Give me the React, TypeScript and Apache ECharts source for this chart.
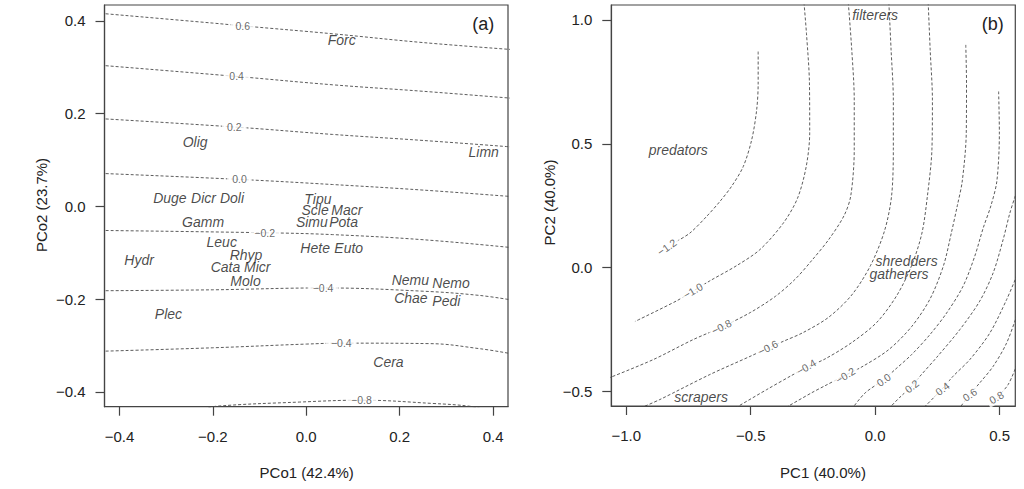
import React, { useEffect, useRef } from "react";
import * as echarts from "echarts";

// ---------- Panel (a) data ----------
const speciesA = ["Forc","Olig","Limn","Duge","Dicr","Doli","Tipu","Scle","Macr","Simu","Pota","Gamm","Leuc","Hete","Euto","Rhyp","Hydr","Cata","Micr","Molo","Nemu","Nemo","Chae","Pedi","Plec","Cera"];
const pco1 = [0.076,-0.238,0.380,-0.292,-0.220,-0.159,0.025,0.019,0.087,0.012,0.080,-0.221,-0.181,0.019,0.091,-0.129,-0.358,-0.173,-0.105,-0.130,0.223,0.310,0.224,0.300,-0.295,0.176];
const pco2 = [0.359,0.138,0.117,0.018,0.018,0.018,0.016,-0.009,-0.009,-0.034,-0.034,-0.034,-0.078,-0.090,-0.090,-0.104,-0.115,-0.131,-0.131,-0.161,-0.159,-0.165,-0.197,-0.205,-0.233,-0.336];

const levelsA = ["0.6","0.4","0.2","0.0","−0.2","−0.4","−0.4","−0.8"];
const contoursA: number[][][] = [
  [[-0.44,0.416],[-0.2,0.395],[-0.136,0.389],[0.056,0.372],[0.25,0.353],[0.44,0.338]],
  [[-0.44,0.304],[-0.149,0.280],[0.056,0.262],[0.25,0.248],[0.44,0.233]],
  [[-0.44,0.189],[-0.154,0.171],[0.056,0.155],[0.25,0.142],[0.44,0.128]],
  [[-0.44,0.071],[-0.143,0.058],[0.056,0.047],[0.25,0.035],[0.44,0.021]],
  [[-0.44,-0.052],[-0.089,-0.057],[0.056,-0.061],[0.25,-0.072],[0.44,-0.089]],
  [[-0.44,-0.182],[-0.2,-0.180],[0.036,-0.176],[0.25,-0.183],[0.37,-0.192],[0.44,-0.202]],
  [[-0.44,-0.3125],[-0.2,-0.305],[0.0,-0.297],[0.075,-0.295],[0.264,-0.296],[0.372,-0.307],[0.44,-0.318]],
  [[-0.22,-0.438],[-0.193,-0.431],[-0.014,-0.422],[0.118,-0.418],[0.271,-0.425],[0.350,-0.431],[0.38,-0.438]],
];
const labelPosA: number[][] = [
  [-0.136,0.389],[-0.149,0.280],[-0.154,0.171],[-0.143,0.058],[-0.089,-0.057],[0.036,-0.176],[0.075,-0.295],[0.118,-0.418],
];

const ticksA = [-0.4,-0.2,0,0.2,0.4];

// ---------- Panel (b) data ----------
const groupsB = ["filterers","predators","shredders","gatherers","scrapers"];
const pc1 = [0.0,-0.791,0.126,0.096,-0.699];
const pc2 = [1.02,0.473,0.028,-0.025,-0.523];

const levelsB = ["−1.2","−1.0","−0.8","−0.6","−0.4","−0.2","0.0","0.2","0.4","0.6","0.8"];
const contoursB: number[][][] = [
  [[-0.470,0.872],[-0.470,0.745],[-0.476,0.637],[-0.496,0.516],[-0.530,0.408],[-0.577,0.328],[-0.624,0.267],[-0.677,0.207],[-0.744,0.140],[-0.798,0.106]],
  [[-0.286,1.07],[-0.276,0.946],[-0.264,0.745],[-0.263,0.543],[-0.277,0.408],[-0.312,0.280],[-0.369,0.180],[-0.463,0.073],[-0.557,0.008],[-0.664,-0.053],[-0.731,-0.094],[-0.798,-0.134],[-0.965,-0.217]],
  [[-0.108,1.07],[-0.094,0.879],[-0.084,0.677],[-0.084,0.476],[-0.098,0.290],[-0.125,0.210],[-0.187,0.113],[-0.254,0.030],[-0.320,-0.045],[-0.400,-0.115],[-0.500,-0.180],[-0.617,-0.240],[-0.731,-0.290],[-0.892,-0.371],[-1.07,-0.445]],
  [[0.055,1.07],[0.064,0.879],[0.073,0.677],[0.073,0.476],[0.066,0.290],[0.038,0.150],[-0.018,0.010],[-0.094,-0.110],[-0.187,-0.200],[-0.290,-0.262],[-0.369,-0.297],[-0.430,-0.324],[-0.503,-0.358],[-0.664,-0.431],[-0.865,-0.532],[-0.94,-0.565]],
  [[0.213,1.07],[0.221,0.879],[0.230,0.677],[0.228,0.476],[0.210,0.290],[0.188,0.140],[0.147,0.010],[0.087,-0.112],[0.007,-0.220],[-0.094,-0.302],[-0.201,-0.368],[-0.276,-0.402],[-0.336,-0.435],[-0.436,-0.492],[-0.56,-0.565]],
  [[0.364,0.899],[0.367,0.745],[0.366,0.543],[0.350,0.350],[0.330,0.250],[0.306,0.140],[0.275,0.010],[0.221,-0.125],[0.147,-0.237],[0.054,-0.331],[-0.053,-0.400],[-0.120,-0.434],[-0.201,-0.476],[-0.254,-0.504],[-0.36,-0.565]],
  [[0.496,0.711],[0.499,0.543],[0.489,0.350],[0.465,0.250],[0.434,0.160],[0.400,0.046],[0.353,-0.075],[0.287,-0.183],[0.220,-0.270],[0.147,-0.350],[0.080,-0.411],[0.034,-0.452],[-0.040,-0.505],[-0.09,-0.565]],
  [[0.563,0.29],[0.541,0.220],[0.514,0.113],[0.474,-0.021],[0.420,-0.135],[0.340,-0.250],[0.247,-0.362],[0.180,-0.438],[0.147,-0.478],[0.100,-0.522],[0.058,-0.565]],
  [[0.57,-0.03],[0.528,-0.129],[0.461,-0.263],[0.380,-0.371],[0.313,-0.438],[0.270,-0.488],[0.195,-0.565]],
  [[0.57,-0.19],[0.528,-0.304],[0.474,-0.398],[0.420,-0.465],[0.380,-0.512],[0.34,-0.565]],
  [[0.57,-0.39],[0.534,-0.472],[0.488,-0.525],[0.45,-0.565]],
];
const labelPosB: number[][] = [
  [-0.837,0.083],[-0.731,-0.094],[-0.617,-0.240],[-0.430,-0.324],[-0.276,-0.402],[-0.120,-0.434],[0.034,-0.452],[0.147,-0.478],[0.270,-0.488],[0.380,-0.512],[0.488,-0.525],
];
const labelRotB = [35,30,27,27,30,32,35,38,38,35,30];

const ticksBx = [-1.0,-0.5,0,0.5];
const ticksBy = [-0.5,0,0.5,1.0];

const FONT = "'Liberation Sans', Arial, Helvetica, sans-serif";
const LINE = "#4a4a4a";
const AX = "#444";

function fmt(v: number) {
  const s = Math.abs(v) < 1e-9 ? "0.0" : v.toFixed(1);
  return s.replace("-", "−");
}

function makeAxis(gridIndex: number, min: number, max: number, ticks: number[], isY: boolean) {
  return {
    type: "value",
    gridIndex,
    min,
    max,
    splitLine: { show: false },
    axisLine: { show: true, onZero: false, lineStyle: { color: AX, width: 1.2 } },
    axisTick: { show: true, inside: false, length: 9, customValues: ticks, lineStyle: { color: AX, width: 1.2 } },
    axisLabel: {
      show: true,
      customValues: ticks,
      margin: isY ? 19 : 22,
      formatter: (v: number) => fmt(v),
      fontSize: 15,
      color: "#222",
      fontFamily: FONT,
    },
  };
}

export default function App() {
  const ref = useRef<HTMLDivElement>(null);
  useEffect(() => {
    if (!ref.current) return;
    const chart = echarts.init(ref.current, null, { renderer: "svg" });
    const series: any[] = [];

    contoursA.forEach((c) => {
      series.push({
        type: "line",
        xAxisIndex: 0,
        yAxisIndex: 0,
        data: c,
        showSymbol: false,
        smooth: 0.4,
        silent: true,
        z: 2,
        lineStyle: { color: LINE, width: 0.9, type: [3, 2] },
      });
    });
    series.push({
      type: "scatter",
      xAxisIndex: 0,
      yAxisIndex: 0,
      symbolSize: 1,
      itemStyle: { color: "rgba(0,0,0,0)" },
      silent: true,
      z: 4,
      data: labelPosA.map((p, i) => ({ name: levelsA[i], value: p })),
      label: {
        show: true,
        position: "inside",
        formatter: "{b}",
        fontSize: 10.5,
        color: "#444",
        fontFamily: FONT,
        backgroundColor: "#fff",
        padding: [0, 5],
      },
    });
    series.push({
      type: "scatter",
      xAxisIndex: 0,
      yAxisIndex: 0,
      symbolSize: 1,
      itemStyle: { color: "rgba(0,0,0,0)" },
      silent: true,
      z: 5,
      data: speciesA.map((n, i) => ({ name: n, value: [pco1[i], pco2[i]] })),
      label: {
        show: true,
        position: "inside",
        formatter: "{b}",
        fontSize: 14,
        fontStyle: "italic",
        color: "#1a1a1a",
        fontFamily: FONT,
      },
    });

    contoursB.forEach((c) => {
      series.push({
        type: "line",
        xAxisIndex: 1,
        yAxisIndex: 1,
        data: c,
        showSymbol: false,
        smooth: 0.3,
        silent: true,
        z: 2,
        lineStyle: { color: LINE, width: 0.9, type: [3, 2] },
      });
    });
    labelPosB.forEach((p, i) => {
      series.push({
        type: "scatter",
        xAxisIndex: 1,
        yAxisIndex: 1,
        symbolSize: 1,
        itemStyle: { color: "rgba(0,0,0,0)" },
        silent: true,
        z: 4,
        data: [{ name: levelsB[i], value: p }],
        label: {
          show: true,
          position: "inside",
          formatter: "{b}",
          rotate: labelRotB[i],
          fontSize: 10.5,
          color: "#444",
          fontFamily: FONT,
          backgroundColor: "#fff",
          padding: [0, 3],
        },
      });
    });
    series.push({
      type: "scatter",
      xAxisIndex: 1,
      yAxisIndex: 1,
      symbolSize: 1,
      itemStyle: { color: "rgba(0,0,0,0)" },
      silent: true,
      z: 5,
      data: groupsB.map((n, i) => ({ name: n, value: [pc1[i], pc2[i]] })),
      label: {
        show: true,
        position: "inside",
        formatter: "{b}",
        fontSize: 14,
        fontStyle: "italic",
        color: "#1a1a1a",
        fontFamily: FONT,
      },
    });

    chart.setOption({
      animation: false,
      backgroundColor: "#fff",
      grid: [
        { left: 104.5, top: 5, width: 403.5, height: 401.7, show: true, borderColor: AX, borderWidth: 1.2, containLabel: false },
        { left: 611.3, top: 5, width: 404, height: 401, show: true, borderColor: AX, borderWidth: 1.2, containLabel: false },
      ],
      xAxis: [
        makeAxis(0, -0.432, 0.432, ticksA, false),
        makeAxis(1, -1.06, 0.563, ticksBx, false),
      ],
      yAxis: [
        makeAxis(0, -0.432, 0.434, ticksA, true),
        makeAxis(1, -0.558, 1.06, ticksBy, true),
      ],
      graphic: [
        { type: "text", x: 483.3, y: 24, style: { text: "(a)", fontSize: 18, fontFamily: FONT, fill: "#222", textAlign: "center", textVerticalAlign: "middle" } },
        { type: "text", x: 992.7, y: 24, style: { text: "(b)", fontSize: 18, fontFamily: FONT, fill: "#222", textAlign: "center", textVerticalAlign: "middle" } },
        { type: "text", x: 306.7, y: 472, style: { text: "PCo1 (42.4%)", fontSize: 15, fontFamily: FONT, fill: "#222", textAlign: "center", textVerticalAlign: "middle" } },
        { type: "text", x: 823, y: 472, style: { text: "PC1 (40.0%)", fontSize: 15, fontFamily: FONT, fill: "#222", textAlign: "center", textVerticalAlign: "middle" } },
        { type: "text", x: 41, y: 205, rotation: Math.PI / 2, style: { text: "PCo2 (23.7%)", fontSize: 15, fontFamily: FONT, fill: "#222", textAlign: "center", textVerticalAlign: "middle" } },
        { type: "text", x: 549, y: 202.5, rotation: Math.PI / 2, style: { text: "PC2 (40.0%)", fontSize: 15, fontFamily: FONT, fill: "#222", textAlign: "center", textVerticalAlign: "middle" } },
      ],
      series,
    });
    return () => chart.dispose();
  }, []);
  return <div ref={ref} style={{ position: "fixed", left: 0, top: 0, width: 1024, height: 489 }} />;
}
